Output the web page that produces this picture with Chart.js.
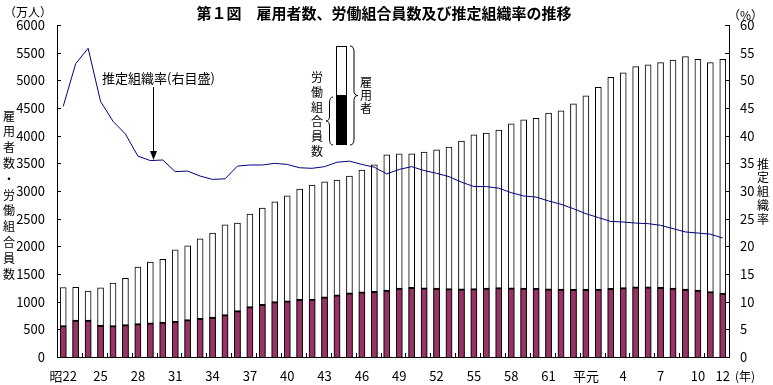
<!DOCTYPE html>
<html>
<head>
<meta charset="utf-8">
<script src="https://cdn.jsdelivr.net/npm/chart.js@4.4.0/dist/chart.umd.min.js"></script>
<style>
  html, body { margin: 0; padding: 0; background: #fff; }
  #wrap { width: 773px; height: 385px; }
</style>
</head>
<body>
<div id="wrap"><canvas id="chart"></canvas></div>
<script>
// 昭和22年〜平成12年
const categories = [
  '昭22','昭23','昭24','昭25','昭26','昭27','昭28','昭29','昭30','昭31',
  '昭32','昭33','昭34','昭35','昭36','昭37','昭38','昭39','昭40','昭41',
  '昭42','昭43','昭44','昭45','昭46','昭47','昭48','昭49','昭50','昭51',
  '昭52','昭53','昭54','昭55','昭56','昭57','昭58','昭59','昭60','昭61',
  '昭62','昭63','平元','平2','平3','平4','平5','平6','平7','平8',
  '平9','平10','平11','平12'
];
const tickLabels = [
  '昭22','','','25','','','28','','','31',
  '','','34','','','37','','','40','',
  '','43','','','46','','','49','','',
  '52','','','55','','','58','','','61',
  '','','平元','','','4','','','7','',
  '','10','','12'
];
// 雇用者数 (万人)
const employees = [
  1256,1260,1193,1249,1336,1421,1625,1715,1767,1935,
  2010,2136,2240,2389,2420,2582,2690,2804,2913,3033,
  3106,3165,3196,3268,3376,3472,3653,3671,3671,3702,
  3743,3792,3900,4014,4045,4099,4213,4285,4315,4406,
  4447,4574,4718,4875,5056,5134,5247,5278,5320,5368,
  5428,5381,5320,5381
];
// 労働組合員数 (万人)
const members = [
  569,668,666,577,569,584,603,617,629,646,
  676,698,721,766,837,910,953,1000,1015,1040,
  1048,1086,1125,1160,1180,1189,1210,1246,1259,1251,
  1244,1238,1231,1237,1247,1253,1252,1246,1242,1234,
  1227,1223,1223,1227,1240,1254,1266,1270,1261,1245,
  1229,1209,1183,1154
];
// 推定組織率 (%)
const rate = [
  45.3,53.0,55.8,46.2,42.6,40.3,36.3,35.5,35.6,33.5,
  33.6,32.7,32.1,32.2,34.5,34.7,34.7,35.0,34.8,34.2,
  34.1,34.4,35.2,35.4,34.8,34.3,33.1,33.9,34.4,33.7,
  33.2,32.6,31.6,30.8,30.8,30.5,29.7,29.1,28.9,28.2,
  27.6,26.8,25.9,25.2,24.5,24.4,24.2,24.1,23.8,23.2,
  22.6,22.4,22.2,21.5
];

const FONT = '"Noto Sans CJK JP", sans-serif';

function vText(ctx, str, x, y0, step) {
  for (let i = 0; i < str.length; i++) {
    ctx.fillText(str[i], x, y0 + i * step);
  }
}

// 右向き/左向きの波括弧
function brace(ctx, x, y1, y2, w, dir) {
  const m = (y1 + y2) / 2;
  const xo = x + w * dir;
  ctx.beginPath();
  ctx.moveTo(x, y1);
  ctx.quadraticCurveTo(x + w * 0.5 * dir, y1, x + w * 0.5 * dir, y1 + 6);
  ctx.lineTo(x + w * 0.5 * dir, m - 5);
  ctx.quadraticCurveTo(x + w * 0.5 * dir, m, xo, m);
  ctx.quadraticCurveTo(x + w * 0.5 * dir, m, x + w * 0.5 * dir, m + 5);
  ctx.lineTo(x + w * 0.5 * dir, y2 - 6);
  ctx.quadraticCurveTo(x + w * 0.5 * dir, y2, x, y2);
  ctx.stroke();
}

const decor = {
  id: 'decor',
  afterDraw(chart) {
    const ctx = chart.ctx;
    const { left, right, top, bottom } = chart.chartArea;
    const xs = chart.scales.x, ys = chart.scales.y, ys1 = chart.scales.y1;
    ctx.save();
    ctx.strokeStyle = '#000';
    ctx.lineWidth = 1;

    // inside ticks
    ctx.beginPath();
    ys.ticks.forEach(t => {
      const py = Math.round(ys.getPixelForValue(t.value)) + 0.5;
      ctx.moveTo(left, py); ctx.lineTo(left + 4, py);
    });
    ys1.ticks.forEach(t => {
      const py = Math.round(ys1.getPixelForValue(t.value)) + 0.5;
      ctx.moveTo(right - 4, py); ctx.lineTo(right, py);
    });
    const half = (xs.getPixelForValue(1) - xs.getPixelForValue(0)) / 2;
    for (let i = 0; i <= categories.length; i += 2) {
      const px = Math.round(xs.getPixelForValue(i) - half) + 0.5;
      ctx.moveTo(px, bottom); ctx.lineTo(px, bottom - 4);
    }
    ctx.stroke();

    ctx.fillStyle = '#000';
    ctx.textBaseline = 'middle';

    // title
    ctx.textAlign = 'center';
    ctx.font = 'bold 15px ' + FONT;
    ctx.fillText('第１図　雇用者数、労働組合員数及び推定組織率の推移', 384, 13);

    // units
    ctx.font = '12px ' + FONT;
    ctx.textAlign = 'left';
    ctx.fillText('（万人）', 4, 12);
    ctx.fillText('（%）', 728, 15);
    ctx.fillText('(年)', 735, 376);

    // axis titles (vertical)
    ctx.textAlign = 'center';
    ctx.font = '12px ' + FONT;
    vText(ctx, '雇用者数・労働組合員数', 9, 116, 15.8);
    vText(ctx, '推定組織率', 763, 164, 13.8);

    // annotation for the line
    ctx.font = '13px ' + FONT;
    ctx.textAlign = 'left';
    ctx.fillText('推定組織率(右目盛)', 102, 78);
    ctx.beginPath();
    ctx.moveTo(153.5, 87); ctx.lineTo(153.5, 152);
    ctx.stroke();
    ctx.beginPath();
    ctx.moveTo(150, 151); ctx.lineTo(157, 151); ctx.lineTo(153.5, 160);
    ctx.closePath();
    ctx.fill();

    // legend sketch
    ctx.fillStyle = '#fff';
    ctx.fillRect(336.5, 46.5, 10, 98);
    ctx.strokeRect(336.5, 46.5, 10, 98);
    ctx.fillStyle = '#000';
    ctx.fillRect(336.5, 95, 10.5, 50);
    brace(ctx, 350, 46, 145, 8, 1);
    brace(ctx, 333, 97, 145, -7, 1);
    ctx.font = '12px ' + FONT;
    ctx.textAlign = 'center';
    vText(ctx, '雇用者', 366, 82, 13);
    vText(ctx, '労働組合員数', 317, 77.5, 14.8);
    ctx.restore();
  }
};

new Chart(document.getElementById('chart'), {
  data: {
    labels: categories,
    datasets: [
      {
        type: 'line',
        label: '推定組織率',
        data: rate,
        yAxisID: 'y1',
        borderColor: '#000080',
        borderWidth: 1,
        pointRadius: 0,
        tension: 0,
        order: 0
      },
      {
        type: 'bar',
        label: '労働組合員数',
        data: members,
        yAxisID: 'y',
        backgroundColor: '#993366',
        borderColor: '#000',
        borderWidth: { top: 2, left: 1, right: 1, bottom: 0 },
        borderSkipped: false,
        barThickness: 6,
        grouped: false,
        order: 1
      },
      {
        type: 'bar',
        label: '雇用者数',
        data: employees,
        yAxisID: 'y',
        backgroundColor: '#fff',
        borderColor: '#000',
        borderWidth: { top: 1, left: 1, right: 1, bottom: 0 },
        borderSkipped: false,
        barThickness: 6,
        grouped: false,
        order: 2
      }
    ]
  },
  options: {
    responsive: true,
    maintainAspectRatio: false,
    animation: false,
    layout: { padding: { top: 25, left: 0, right: 0, bottom: 0 } },
    plugins: {
      legend: { display: false },
      tooltip: { enabled: false }
    },
    scales: {
      x: {
        grid: { display: false, drawTicks: false },
        border: { color: '#000', width: 1 },
        ticks: {
          autoSkip: false,
          maxRotation: 0,
          padding: 11,
          color: '#000',
          font: { family: FONT, size: 13 },
          callback: (v, i) => tickLabels[i]
        },
        afterFit: s => { s.height = 28; }
      },
      y: {
        position: 'left',
        min: 0,
        max: 6000,
        grid: { display: false, drawTicks: false },
        border: { color: '#000', width: 1 },
        ticks: {
          stepSize: 500,
          padding: 12,
          color: '#000',
          font: { family: FONT, size: 13 },
          callback: v => String(v)
        },
        afterFit: s => { s.width = 57; }
      },
      y1: {
        position: 'right',
        min: 0,
        max: 60,
        grid: { display: false, drawTicks: false },
        border: { color: '#000', width: 1 },
        ticks: {
          stepSize: 5,
          padding: 11,
          color: '#000',
          font: { family: FONT, size: 13 }
        },
        afterFit: s => { s.width = 44; }
      }
    }
  },
  plugins: [decor]
});
</script>
</body>
</html>
